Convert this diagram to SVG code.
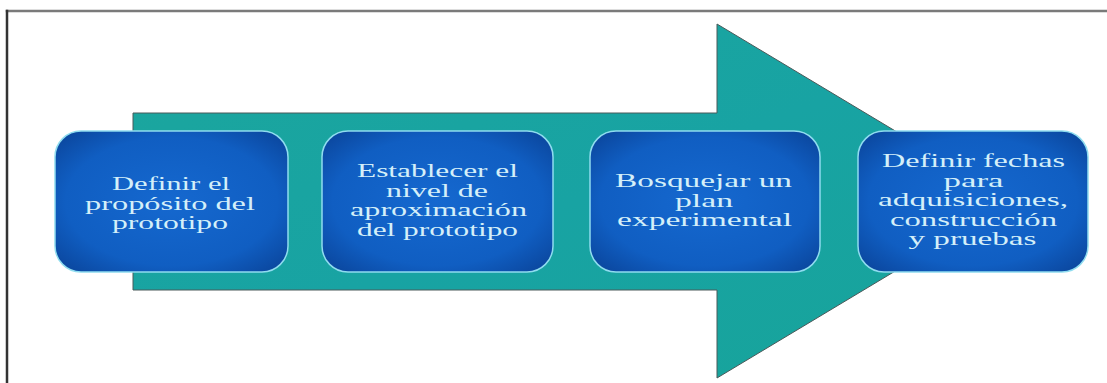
<svg xmlns="http://www.w3.org/2000/svg" width="1107" height="383" viewBox="0 0 1107 383">
<defs>
<radialGradient id="boxFill" cx="50%" cy="50%" r="65%">
<stop offset="0%" stop-color="#1568cf"/>
<stop offset="70%" stop-color="#105ec2"/>
<stop offset="100%" stop-color="#0b48a0"/>
</radialGradient>
<linearGradient id="arrowFill" x1="0" y1="0" x2="1" y2="1">
<stop offset="0%" stop-color="#1ba69d"/>
<stop offset="50%" stop-color="#18a3a3"/>
<stop offset="100%" stop-color="#17a49a"/>
</linearGradient>
</defs>
<style>
.box{fill:url(#boxFill);stroke:#8fdcef;stroke-width:1.5}
.lbl{font-family:"Liberation Serif","Times New Roman",serif;font-size:18px;fill:#d4eff9;text-anchor:middle}
.frame{stroke-linecap:square}
</style>
<rect width="1107" height="383" fill="#ffffff"/>
<g id="frame" class="frame">
<line x1="7" y1="11" x2="1107" y2="11" stroke="#7a7a7a" stroke-width="2.5"/>
<line x1="7" y1="11" x2="7" y2="383" stroke="#333333" stroke-width="2.5"/>
</g>
<g id="connectors">
<polygon points="133,113 717,113 717,24 1012,201 717,378 717,290 133,290" fill="url(#arrowFill)" stroke="#4a5a5a" stroke-width="1"/>
</g>
<g id="node1">
<rect class="box" x="55" y="131" width="233" height="141" rx="26"/>
<text class="lbl" x="171" y="190" textLength="118" lengthAdjust="spacingAndGlyphs">Definir el</text>
<text class="lbl" x="170" y="209.5" textLength="170" lengthAdjust="spacingAndGlyphs">propósito del</text>
<text class="lbl" x="170" y="229" textLength="116" lengthAdjust="spacingAndGlyphs">prototipo</text>
</g>
<g id="node2">
<rect class="box" x="322" y="131" width="231" height="141" rx="26"/>
<text class="lbl" x="437.5" y="177" textLength="161" lengthAdjust="spacingAndGlyphs">Establecer el</text>
<text class="lbl" x="437" y="196.5" textLength="102" lengthAdjust="spacingAndGlyphs">nivel de</text>
<text class="lbl" x="438.5" y="216" textLength="177" lengthAdjust="spacingAndGlyphs">aproximación</text>
<text class="lbl" x="437.5" y="235.5" textLength="161" lengthAdjust="spacingAndGlyphs">del prototipo</text>
</g>
<g id="node3">
<rect class="box" x="590" y="131" width="230" height="141" rx="26"/>
<text class="lbl" x="703.5" y="187" textLength="177" lengthAdjust="spacingAndGlyphs">Bosquejar un</text>
<text class="lbl" x="704" y="206.5" textLength="58" lengthAdjust="spacingAndGlyphs">plan</text>
<text class="lbl" x="704.5" y="226" textLength="175" lengthAdjust="spacingAndGlyphs">experimental</text>
</g>
<g id="node4">
<rect class="box" x="858" y="131" width="230" height="141" rx="26"/>
<text class="lbl" x="973.5" y="167" textLength="183" lengthAdjust="spacingAndGlyphs">Definir fechas</text>
<text class="lbl" x="973.5" y="186.5" textLength="60" lengthAdjust="spacingAndGlyphs">para</text>
<text class="lbl" x="973" y="206" textLength="190" lengthAdjust="spacingAndGlyphs">adquisiciones,</text>
<text class="lbl" x="973.5" y="225.5" textLength="167" lengthAdjust="spacingAndGlyphs">construcción</text>
<text class="lbl" x="972.5" y="245" textLength="128" lengthAdjust="spacingAndGlyphs">y pruebas</text>
</g>
</svg>
